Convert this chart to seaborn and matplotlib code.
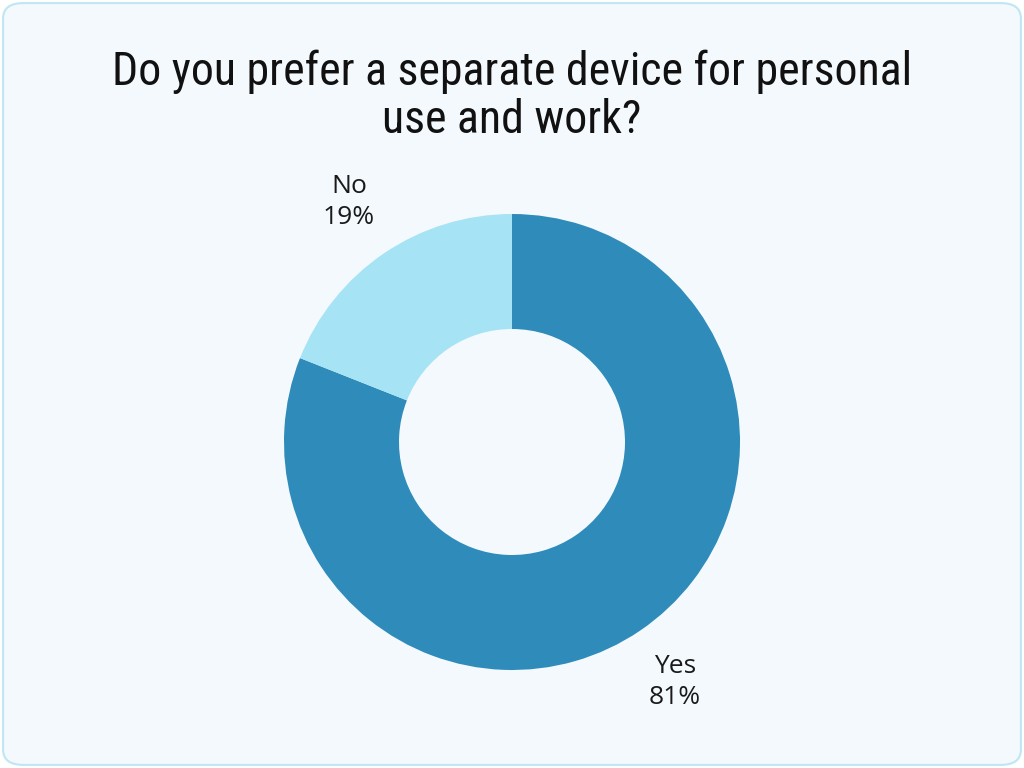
import matplotlib.pyplot as plt
import seaborn as sns
from matplotlib.patches import FancyBboxPatch

sns.set_theme(style="white")
plt.rcParams['font.family'] = ['Open Sans', 'DejaVu Sans']

labels = ["Yes", "No"]
shares = [81, 19]
colors = ["#2E8BBA", "#A6E4F5"]
title = "Do you prefer a separate device for personal\nuse and work?"

fig = plt.figure(figsize=(10.24, 7.68), dpi=100)
fig.patch.set_facecolor("white")
bg = FancyBboxPatch((0.003, 0.004), 0.994, 0.992, boxstyle="round,pad=0,rounding_size=0.02",
                    transform=fig.transFigure, facecolor="#F3F9FD", edgecolor="#BFE6F2", lw=1.5, zorder=-10)
fig.patches.append(bg)

ax = fig.add_axes([(512 - 250) / 1024, (326 - 250) / 768, 500 / 1024, 500 / 768])
ax.set_facecolor("none")
ax.set_zorder(5)
texts = ax.pie(shares, colors=colors, startangle=90, counterclock=False, radius=228,
               wedgeprops=dict(width=115, edgecolor="none"),
               labels=[f"{l}\n{s}%" for l, s in zip(labels, shares)],
               labeldistance=290 / 228, textprops=dict(fontsize=19, color="#1a1a1a", ha="center", va="center"))
for t in texts[1]:
    t.set_horizontalalignment("center")
    t.set_linespacing(1.3)
ax.set_xlim(-250, 250)
ax.set_ylim(-250, 250)
ax.set_aspect("equal")
ax.axis("off")

fig.text(0.5, 0.875, title, ha="center", va="center", fontsize=33, color="#111111",
         family=["Roboto Condensed", "Roboto", "DejaVu Sans"], linespacing=1.1)

fig.savefig("out.png", dpi=100, facecolor=fig.get_facecolor())
